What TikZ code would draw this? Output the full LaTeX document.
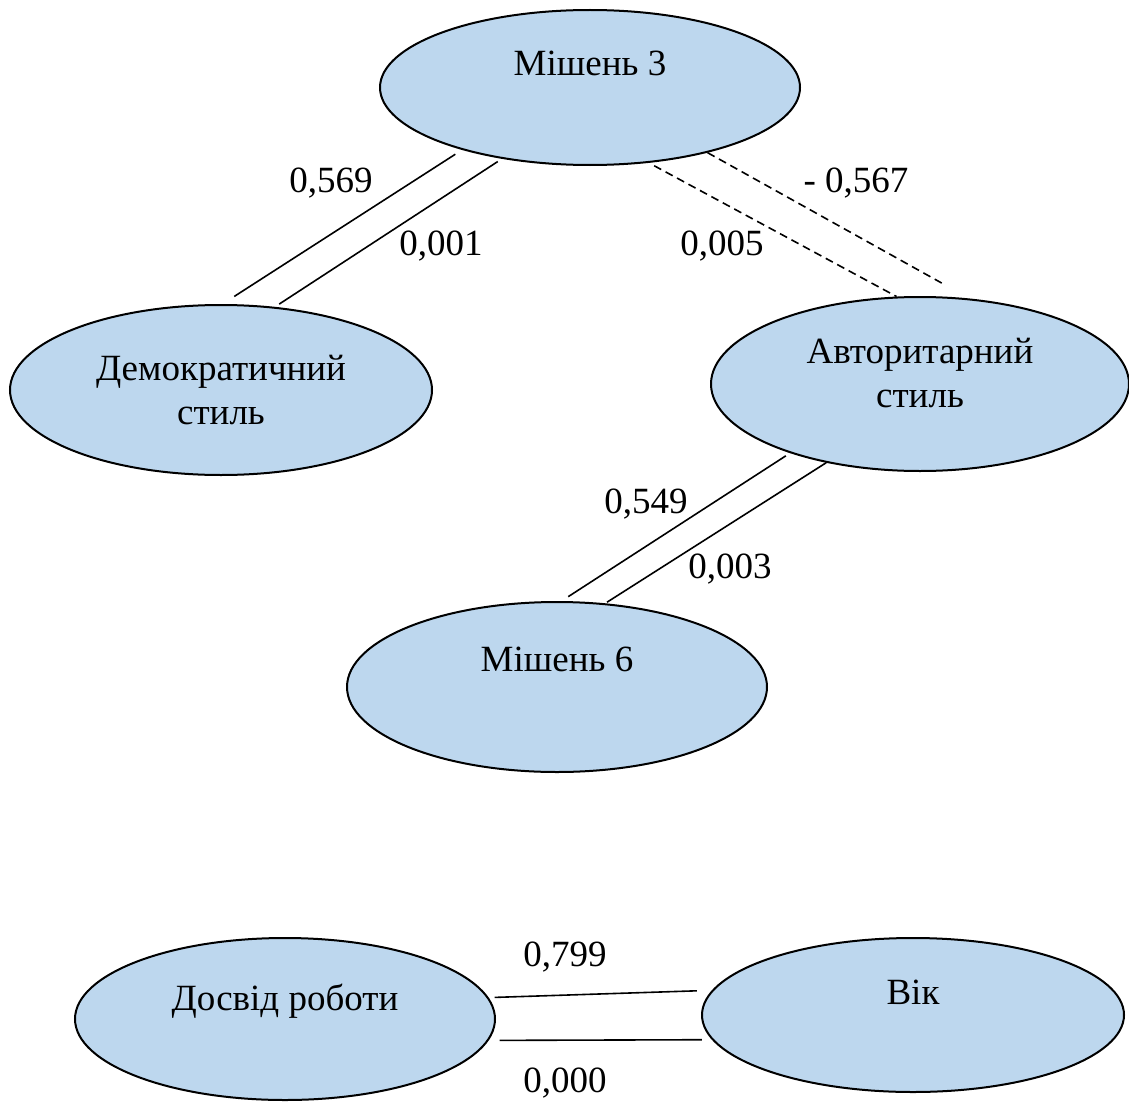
\documentclass[tikz,border=0pt]{standalone}
\usepackage{fontspec}
\setmainfont{Liberation Serif}
\usetikzlibrary{shapes.geometric}
\definecolor{ovalfill}{HTML}{BDD7EE}

\begin{document}
\begin{tikzpicture}[x=0.5pt, y=-0.5pt,
	every node/.style={font=\fontsize{18.5}{22}\selectfont},
	oval/.style={ellipse, draw, line width=1pt, fill=ovalfill, inner sep=0pt, align=center},
	lift/.style={text height=13pt, text depth=#1},
	link/.style={line width=0.8pt},
	neglink/.style={line width=0.8pt, dash pattern=on 4pt off 2.5pt}]
	\useasboundingbox (0,0) rectangle (1129,1102);
	\node[oval, minimum width=210pt, minimum height=77.5pt, lift=25.3pt] (m3) at (590,87.5) {Мішень 3};
	\node[oval, minimum width=211pt, minimum height=85pt] (dem) at (221,390) {Демократичний\\стиль};
	\node[oval, minimum width=209pt, minimum height=87pt, text depth=11pt] (avt) at (920,384) {Авторитарний\\стиль};
	\node[oval, minimum width=210pt, minimum height=85pt, lift=28.8pt] (m6) at (557,687) {Мішень 6};
	\node[oval, minimum width=210pt, minimum height=81pt, lift=21.8pt] (dosv) at (285,1019) {Досвід роботи};
	\node[oval, minimum width=211pt, minimum height=77pt, lift=23.8pt] (vik) at (913,1015) {Вік};
	\draw[link, shorten <=4pt, shorten >=7pt] (m3.206) -- (dem.89);
	\draw[link, shorten <=2.5pt, shorten >=2.5pt] (m3.219.5) -- (dem.57);
	\draw[neglink, shorten <=3pt] (m3.-52.6) -- (avt.105);
	\draw[neglink, shorten >=14.5pt] (m3.-29.5) -- (avt.60);
	\draw[link, shorten <=2.5pt, shorten >=4pt] (avt.208.5) -- (m6.87.4);
	\draw[link, shorten >=1pt] (avt.220) -- (m6.60);
	\draw[link, shorten <=3pt, shorten >=7.5pt] (dosv.6.8) -- (vik.173.2);
	\draw[link, shorten <=5.5pt, shorten >=5pt] (dosv.-6.8) -- (vik.187.1);
	\node (r569) at (331,183) {0,569};
	\node (p001) at (441,246) {0,001};
	\node (r567) at (856,183) {- 0,567};
	\node (p005) at (722,246) {0,005};
	\node (r549) at (646,504) {0,549};
	\node (p003) at (730,569) {0,003};
	\node (r799) at (565,957) {0,799};
	\node (p000) at (565,1083) {0,000};
\end{tikzpicture}
\end{document}
